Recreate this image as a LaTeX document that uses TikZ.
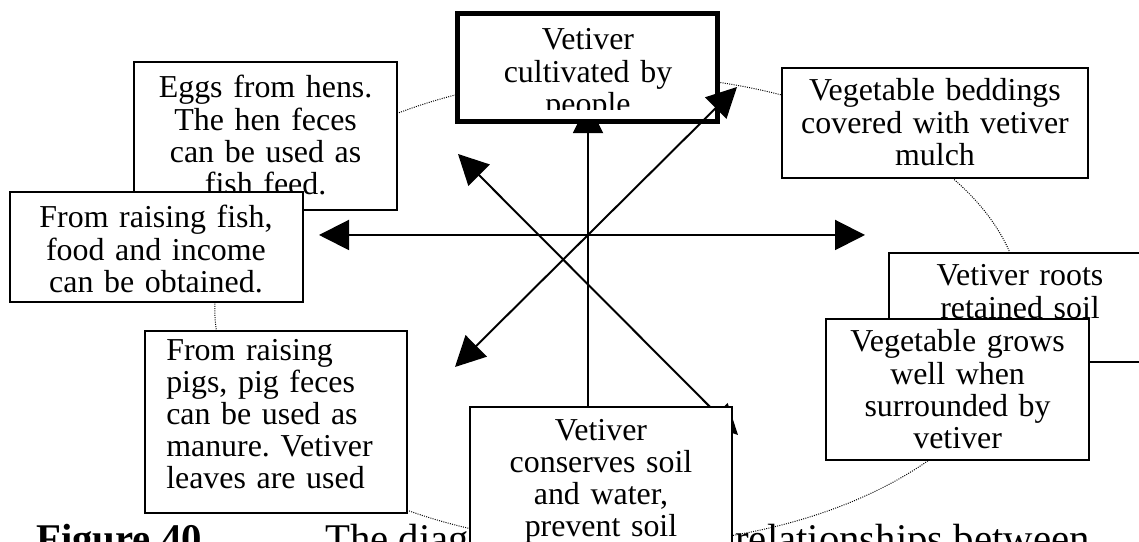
\documentclass[tikz,border=0pt]{standalone}
\usepackage{fontspec}
\setmainfont{Liberation Serif}
\usetikzlibrary{positioning,arrows.meta,backgrounds}
\frenchspacing

\newcommand{\boxfont}{\fontsize{22.7}{22.8}\selectfont}
\newcommand{\capfont}{\fontsize{29}{32}\selectfont}

\begin{document}
\begin{tikzpicture}[>={Triangle[length=0.75cm,width=0.75cm]},
  cbox/.style={draw, line width=0.9pt, fill=white, inner sep=0pt},
  ctext/.style={font=\boxfont, text width=7cm, align=center, inner sep=0pt, anchor=base},
  link/.style={<->, line width=1.4pt},
  ring/.style={line width=0.7pt, dash pattern=on 0.7pt off 0.9pt}]
  \useasboundingbox (0,0) rectangle (28.475,13.55);
  \clip (0,0) rectangle (28.475,13.55);

  % free ends of the arrows
  \coordinate (hub) at (14.7,7.675);
  \coordinate (tipW) at (7.975,7.675);
  \coordinate (tipE) at (21.625,7.675);
  \coordinate (tipNE) at (18.425,11.375);
  \coordinate (tipSW) at (11.375,4.375);
  \coordinate (tipNW) at (11.45,9.7);
  \coordinate (tipSE) at (18.45,2.675);

  % top box
  \node[cbox, line width=3.5pt, minimum width=6.5cm, minimum height=2.7cm] (vetiver) at (14.69,11.86) {};
  \begin{scope}
    \clip (11.4,13.2) rectangle (18.0,10.8);
    \node[ctext] (vetiver-t) at (14.7,12.3) {Vetiver\\cultivated by\\people};
  \end{scope}
  \draw[link] (tipSW) -- (tipNE);

  % boxes round the cycle
  \node[cbox, minimum width=6.575cm, minimum height=3.7cm] (hens) at (6.64,10.15) {};
  \node[ctext] (hens-t) at (6.64,11.1) {Eggs from hens.\\The hen feces\\can be used as\\fish feed.};
  \node[cbox, minimum width=7.325cm, minimum height=2.75cm] (fish) at (3.91,7.375) {};
  \node[ctext] (fish-t) at (3.9,7.85) {From raising fish,\\food and income\\can be obtained.};
  \node[cbox, minimum width=6.55cm, minimum height=4.55cm] (pigs) at (6.9,3.0) {};
  \node[font=\boxfont, text width=6.2cm, align=left, inner sep=0pt, anchor=base west] (pigs-t) at (4.15,4.5375) {From raising\\pigs, pig feces\\can be used as\\manure. Vetiver\\leaves are used};
  \node[cbox, minimum width=7.65cm, minimum height=2.75cm] (beds) at (23.375,10.475) {};
  \node[ctext] (beds-t) at (23.375,11.025) {Vegetable beddings\\covered with vetiver\\mulch};
  \node[cbox, minimum width=6.55cm, minimum height=2.725cm] (roots) at (25.5,5.8625) {};
  \node[ctext] (roots-t) at (25.5,6.4) {Vetiver roots\\retained soil};
  \node[cbox, minimum width=6.575cm, minimum height=3.525cm] (grows) at (23.94,3.8125) {};
  \node[ctext] (grows-t) at (23.94,4.75) {Vegetable grows\\well when\\surrounded by\\vetiver};
  \node[cbox, minimum width=6.55cm, minimum height=4.075cm] (conserve) at (15.025,1.3375) {};
  \node[ctext] (conserve-t) at (15.025,2.5375) {Vetiver\\conserves soil\\and water,\\prevent soil};

  \begin{pgfonlayer}{background}
    % dotted cycle behind the boxes
    \draw[ring] (15.46,5.8) ellipse [x radius=10.09, y radius=5.875];
    % caption, partly hidden
    \node[font=\capfont\bfseries, anchor=base west, inner sep=0pt] (fig) at (0.9,-0.275) {Figure 40};
    \node[font=\capfont, anchor=base west, inner sep=0pt] (cap-a) at (8.125,-0.275) {The diagram};
    \node[font=\capfont, anchor=base east, inner sep=0pt] (cap-b) at (27.25,-0.275) {relationships between};
    % arrows
    \draw[link] (tipW) -- (tipE);
    \draw[link] (tipNW) -- (tipSE);
    \draw[->, line width=1.4pt, shorten >=-0.525cm] (conserve.north -| hub) -- (vetiver.south -| hub);
  \end{pgfonlayer}
\end{tikzpicture}
\end{document}
